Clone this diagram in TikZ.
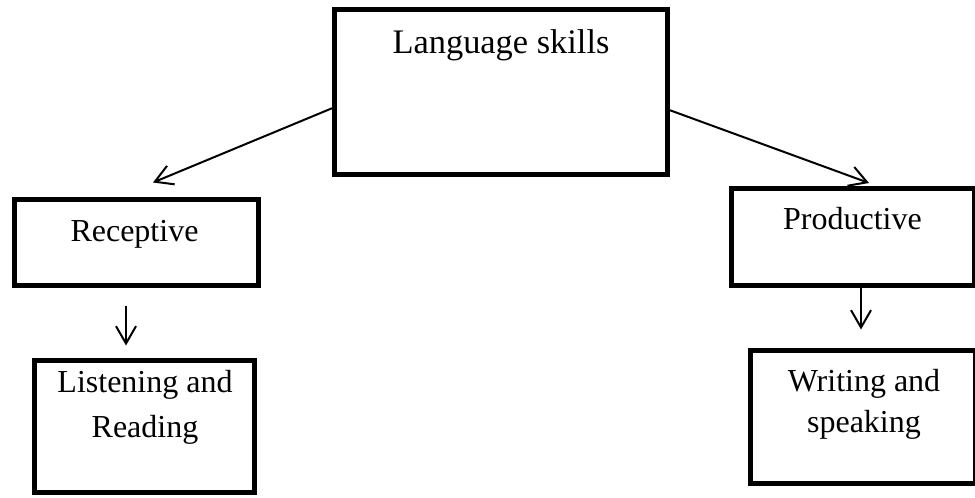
\documentclass[tikz,border=0pt]{standalone}
\usepackage{fontspec}
\setmainfont{Liberation Serif}
\usetikzlibrary{arrows.meta,calc}

\tikzset{
    box/.style = {draw = black,line width = 3.75pt,rectangle,inner sep = 0pt},
    txt/.style = {anchor = base,align = center,inner sep = 0pt,font = \fontsize{24}{33.75}\selectfont},
    arr/.style = {draw = black,line width = 1.5pt,-{Straight Barb[length = 13pt,width = 15pt]}}
}

\begin{document}
\begin{tikzpicture}[x = 0.75pt,y = -0.75pt]
        \useasboundingbox (0,0) rectangle (975,497);
        % boxes
        \node [box,minimum width = 249.75pt,minimum height = 123.4pt] (lang) at (501,92.25) {};
        \node [box,minimum width = 183pt,minimum height = 64.5pt] (rec) at (136.5,242.5) {};
        \node [box,minimum width = 165pt,minimum height = 99pt] (listen) at (144.5,426.5) {};
        \node [box,minimum width = 182.6pt,minimum height = 72.75pt] (prod) at (853.25,237) {};
        \node [box,minimum width = 168.4pt,minimum height = 99.4pt] (write) at (862.75,416.75) {};
        % texts (base = last line)
        \node [txt,font = \fontsize{25.8}{30}\selectfont] (langtxt) at (501,53) {Language skills};
        \node [txt] (rectxt) at (134.5,241) {Receptive};
        \node [txt] (listentxt) at (145,437) {Listening and\\Reading};
        \node [txt] (prodtxt) at (852.5,229) {Productive};
        \node [txt,font = \fontsize{24}{30.75}\selectfont] (writetxt) at (864,432) {Writing and\\speaking};
        % arrows
        \draw [arr] ($(lang.west)+(0,16)$) -- ($(rec.north)+(16.5,-14.5)$);
        \draw [arr] ($(lang.east)+(0,18)$) -- ($(prod.north)+(15.75,-3)$);
        \draw [arr] ($(rec.south)+(-10.5,17.5)$) -- ($(listen.north)+(-18.5,-12.5)$);
        \draw [arr] ($(prod.south)+(7.75,0)$) -- ($(write.north)+(-1.75,-18.5)$);
    \end{tikzpicture}
\end{document}
